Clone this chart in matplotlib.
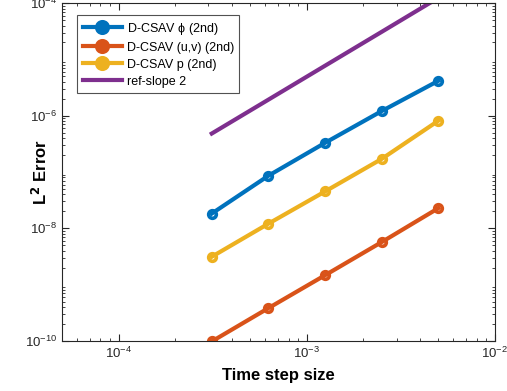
import matplotlib
matplotlib.use('Agg')
import matplotlib.pyplot as plt
from matplotlib.ticker import LogLocator, NullFormatter

plt.rcParams['font.family'] = ['Liberation Sans', 'DejaVu Sans']
plt.rcParams['mathtext.default'] = 'regular'

dt = [3.125e-4, 6.25e-4, 1.25e-3, 2.5e-3, 5e-3]
err_phi = [1.83e-8, 8.6e-8, 3.3e-7, 1.21e-6, 4.17e-6]
err_uv = [9.8e-11, 3.83e-10, 1.47e-9, 5.7e-9, 2.28e-8]
err_p = [3.13e-9, 1.21e-8, 4.52e-8, 1.71e-7, 8.15e-7]
ref = [4.83e-7, 1.93e-6, 7.73e-6, 3.09e-5, 1.24e-4]

labels = [r'D-CSAV $\phi$ (2nd)', 'D-CSAV (u,v) (2nd)', 'D-CSAV p (2nd)', 'ref-slope 2']
colors = ['#0072BD', '#D95319', '#EDB120', '#7E2F8E']

fig = plt.figure(figsize=(5.07, 3.91), dpi=100)
ax = fig.add_axes([0.1223, 0.128, 0.854, 0.864])

for ys, c, lab in zip((err_phi, err_uv, err_p), colors, labels):
    ax.plot(dt, ys, 'o-', color=c, lw=3, ms=5.5, mfc='none', mew=2.6, label=lab)
ax.plot(dt, ref, '-', color=colors[3], lw=3, label=labels[3])

ax.set_xscale('log')
ax.set_yscale('log')
ax.set_xlim(5e-5, 1e-2)
ax.set_ylim(1e-10, 1e-4)
ax.set_yticks([1e-10, 1e-8, 1e-6, 1e-4])
ax.yaxis.set_minor_locator(LogLocator(base=10, subs=range(2, 10), numticks=20))
ax.yaxis.set_minor_formatter(NullFormatter())
ax.xaxis.set_minor_formatter(NullFormatter())

for s in ax.spines.values():
    s.set_color('#262626')
    s.set_linewidth(0.8)
ax.tick_params(which='both', direction='in', top=True, right=True,
               colors='#262626', labelsize=9.5)
ax.tick_params(which='major', length=5)
ax.tick_params(which='minor', length=2.5)

ax.set_xlabel('Time step size', fontsize=12, fontweight='bold', labelpad=5)
ax.set_ylabel(r'L$^{\mathbf{2}}$ Error', fontsize=12, fontweight='bold')
ax.yaxis.set_label_coords(-0.028, 0.5)

leg = ax.legend(loc='upper left', bbox_to_anchor=(0.035, 0.965), fontsize=9,
                fancybox=False, edgecolor='#262626', handlelength=3.1,
                borderpad=0.45, labelspacing=0.4, handletextpad=0.4,
                borderaxespad=0, markerscale=1.5)
leg.get_frame().set_linewidth(0.8)
# legend shows filled markers
for h, c in zip(leg.legend_handles[:3], colors):
    h.set_markerfacecolor(c)

fig.savefig('out.png', dpi=100)
